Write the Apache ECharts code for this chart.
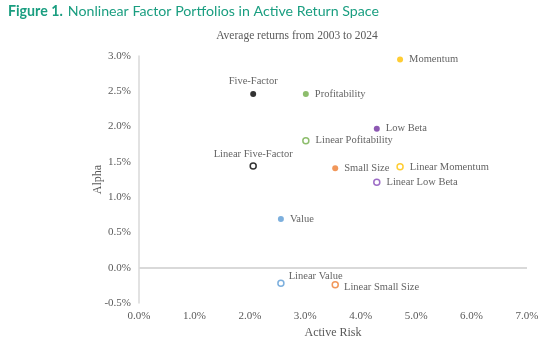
<!DOCTYPE html>
<html><head><meta charset="utf-8">
<script src="https://cdn.jsdelivr.net/npm/echarts@6/dist/echarts.min.js"></script>
<style>html,body{margin:0;padding:0;background:#fff}#c{width:550px;height:346px}</style>
</head><body><div id="c"></div>
<script>
// Data
const names = ["Momentum","Five-Factor","Profitability","Low Beta","Linear Pofitability","Linear Five-Factor","Small Size","Linear Momentum","Linear Low Beta","Value","Linear Value","Linear Small Size"];
const activeRisk = [4.71, 2.06, 3.01, 4.29, 3.01, 2.06, 3.54, 4.71, 4.29, 2.56, 2.56, 3.54];
const alpha = [2.95, 2.46, 2.46, 1.97, 1.80, 1.44, 1.41, 1.43, 1.21, 0.69, -0.22, -0.24];
const xTicks = [0,1,2,3,4,5,6,7];
const yTicks = [-0.5,0,0.5,1,1.5,2,2.5,3];

// Styles
const colorMap = {
  "Momentum":"#FFC000","Linear Momentum":"#FFC000",
  "Five-Factor":"#000000","Linear Five-Factor":"#000000",
  "Profitability":"#70AD47","Linear Pofitability":"#70AD47",
  "Low Beta":"#7030A0","Linear Low Beta":"#8548B8",
  "Small Size":"#ED7D31","Linear Small Size":"#ED7D31",
  "Value":"#5B9BD5","Linear Value":"#5B9BD5"
};
const labelPos = {
  "Five-Factor":{position:"top",distance:4},
  "Linear Five-Factor":{position:"top",distance:3},
  "Linear Value":{position:"right",offset:[0,-7],distance:4},
  "Linear Small Size":{position:"right",offset:[0,3],distance:5}
};
const hollow = n => n.startsWith("Linear");

const series = names.map((n,i)=>{
  const c = colorMap[n];
  const lp = labelPos[n] || {position:"right",distance:6};
  return {
    type:"scatter", name:n,
    data:[[activeRisk[i], alpha[i]]],
    symbol:"circle", symbolSize:6,
    itemStyle: hollow(n) ? {color:"#fff", borderColor:c, borderWidth:1.5} : {color:c},
    label:{show:true, formatter:n, position:lp.position, distance:lp.distance, offset:lp.offset||[0,0],
      fontFamily:"Liberation Serif", fontSize:10.5, color:"#3a3a3a"},
    emphasis:{disabled:true}
  };
});
series.push({
  type:"line", data:[], silent:true,
  markLine:{symbol:"none", silent:true, label:{show:false},
    lineStyle:{color:"#d9d9d9", width:2, type:"solid"},
    data:[{yAxis:0}]}
});

const chart = echarts.init(document.getElementById("c"), null, {renderer:"canvas"});
chart.setOption({
  animation:false,
  backgroundColor:"#fff",
  title:[
    {text:"{b|Figure 1.} {n|Nonlinear Factor Portfolios in Active Return Space}", left:3, top:-3,
     textStyle:{rich:{
       b:{fontFamily:"Lato", fontWeight:"bold", fontSize:14.2, color:"#1a9e80"},
       n:{fontFamily:"Lato", fontWeight:"normal", fontSize:14.2, color:"#1a9e80"}}}},
    {text:"Average returns from 2003 to 2024", left:292, top:25, textAlign:"center",
     textStyle:{fontFamily:"Liberation Serif", fontWeight:"normal", fontSize:11.5, color:"#595959"}}
  ],
  grid:{left:139, right:23, top:56, bottom:43},
  xAxis:{type:"value", min:xTicks[0], max:xTicks[xTicks.length-1], interval:1,
    name:"Active Risk", nameLocation:"middle", nameGap:24, nameMoveOverlap:false,
    nameTextStyle:{fontFamily:"Liberation Serif", fontSize:12, color:"#595959"},
    axisLine:{show:false, onZero:false}, axisTick:{show:false}, splitLine:{show:false},
    axisLabel:{fontFamily:"Liberation Serif", fontSize:11, color:"#595959", margin:8,
      formatter:v=>v.toFixed(1)+"%"}},
  yAxis:{type:"value", min:yTicks[0], max:yTicks[yTicks.length-1], interval:0.5,
    name:"Alpha", nameLocation:"middle", nameGap:35, nameMoveOverlap:false,
    nameTextStyle:{fontFamily:"Liberation Serif", fontSize:12, color:"#595959"},
    axisLine:{show:true, onZero:false, lineStyle:{color:"#d9d9d9", width:1.5}},
    axisTick:{show:false}, splitLine:{show:false},
    axisLabel:{fontFamily:"Liberation Serif", fontSize:11, color:"#595959", margin:8,
      formatter:v=>v.toFixed(1)+"%"}},
  series
});
</script></body></html>
